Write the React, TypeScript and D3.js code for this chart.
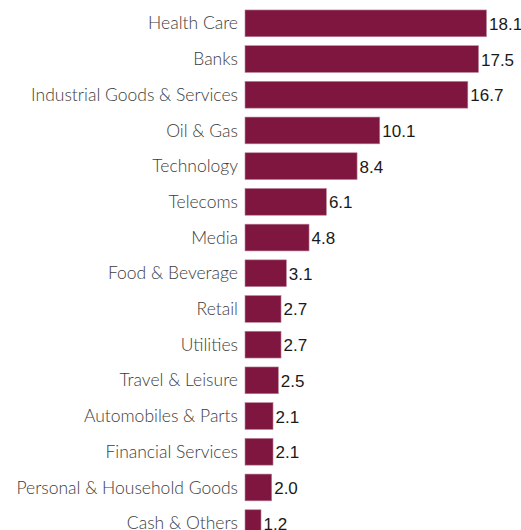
import React from 'react';
import * as d3 from 'd3';

const categories = [
  'Health Care',
  'Banks',
  'Industrial Goods & Services',
  'Oil & Gas',
  'Technology',
  'Telecoms',
  'Media',
  'Food & Beverage',
  'Retail',
  'Utilities',
  'Travel & Leisure',
  'Automobiles & Parts',
  'Financial Services',
  'Personal & Household Goods',
  'Cash & Others',
];
const weights = [18.1, 17.5, 16.7, 10.1, 8.4, 6.1, 4.8, 3.1, 2.7, 2.7, 2.5, 2.1, 2.1, 2.0, 1.2];

const W = 521;
const H = 530;
const BAR_COLOR = '#7f1640';

export default function App() {
  const x = d3.scaleLinear().domain([0, 18.1]).range([245, 486.5]);
  const y = d3
    .scaleBand<string>()
    .domain(categories)
    .range([5.5, 5.5 + categories.length * 35.7])
    .paddingInner(0.25)
    .paddingOuter(0.125);

  return (
    <svg
      width={W}
      height={H}
      style={{ position: 'absolute', left: 0, top: 0, background: '#fff' }}
    >
      {categories.map((c, i) => {
        const y0 = y(c)!;
        const cy = y0 + y.bandwidth() / 2;
        return (
          <g key={c}>
            <rect
              x={x(0)}
              y={y0}
              width={x(weights[i]) - x(0)}
              height={y.bandwidth()}
              fill={BAR_COLOR}
              stroke="#b9859b"
              strokeWidth={0.6}
            />
            <text
              x={238}
              y={cy}
              dy="0.35em"
              textAnchor="end"
              fill="#3c3c3c"
              style={{ fontFamily: 'Lato, sans-serif', fontSize: 17.5, fontWeight: 300 }}
            >
              {c}
            </text>
            <text
              x={x(weights[i]) + 2.5}
              y={cy + 0.5}
              dy="0.35em"
              fill="#1a1a1a"
              style={{ fontFamily: '"Liberation Sans", Arial, sans-serif', fontSize: 17 }}
            >
              {weights[i].toFixed(1)}
            </text>
          </g>
        );
      })}
    </svg>
  );
}
